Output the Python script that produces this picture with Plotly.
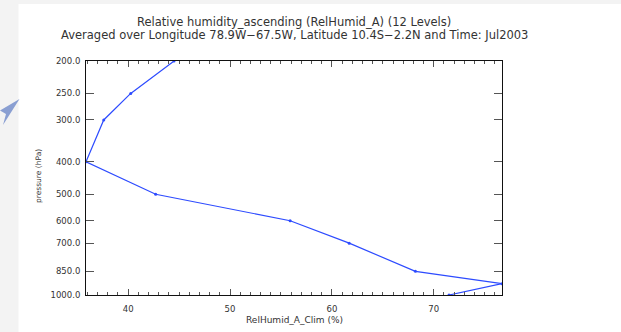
import math
import plotly.graph_objects as go

# Data
pressure_levels = [1000, 925, 850, 700, 600, 500, 400, 300, 250, 200, 150, 100]
relhumid_values = [71.5, 76.7, 68.2, 61.7, 55.9, 42.7, 35.86, 37.6, 40.25, 44.5, 50.0, 55.0]
y_tick_values = [200, 250, 300, 400, 500, 600, 700, 850, 1000]
y_tick_labels = ["200.0", "250.0", "300.0", "400.0", "500.0", "600.0", "700.0", "850.0", "1000.0"]
x_tick_values = [40, 50, 60, 70]
x_tick_labels = ["40", "50", "60", "70"]

title_line1 = "Relative humidity_ascending (RelHumid_A) (12 Levels)"
title_line2 = "Averaged over Longitude 78.9W\u221267.5W, Latitude 10.4S\u22122.2N and Time: Jul2003"

FONT = "DejaVu Sans"
LINE_COLOR = "rgb(45,75,255)"
AX_COLOR = "#111111"

fig = go.Figure()
fig.add_trace(go.Scatter(
    x=relhumid_values, y=pressure_levels, mode="lines+markers",
    line=dict(color=LINE_COLOR, width=1.2),
    marker=dict(color=LINE_COLOR, size=3),
    cliponaxis=True, showlegend=False, hoverinfo="x+y",
))

L, R, T, B = 86, 119, 61, 37
W, H = 621, 332
pw, ph = W - L - R, H - T - B

def px(x):
    return (x - L) / pw

def py(y):
    return (H - B - y) / ph

shapes = [
    dict(type="rect", xref="paper", yref="paper", x0=px(0), x1=px(18.5), y0=py(H), y1=py(0),
         fillcolor="#f3f3f3", line=dict(width=0), layer="below"),
    dict(type="rect", xref="paper", yref="paper", x0=px(0), x1=px(W), y0=py(4), y1=py(0),
         fillcolor="#f3f3f3", line=dict(width=0), layer="below"),
    dict(type="path", xref="paper", yref="paper",
         path="M {},{} L {},{} L {},{} L {},{} Z".format(
             px(19.5), py(99), px(0), py(110.5), px(6), py(114), px(3), py(125)),
         fillcolor="#8a9fd2", line=dict(width=0), layer="above"),
]

fig.update_layout(
    width=W, height=H,
    margin=dict(l=L, r=R, t=T, b=B, pad=0),
    paper_bgcolor="white", plot_bgcolor="white",
    font=dict(family=FONT, size=8.5, color="#333333"),
    shapes=shapes,
    annotations=[
        dict(text=title_line1, xref="paper", yref="paper", x=px(294), y=py(22), xanchor="center",
             yanchor="middle", showarrow=False, font=dict(family=FONT, size=11.5, color="#333333")),
        dict(text=title_line2, xref="paper", yref="paper", x=px(294), y=py(35.5), xanchor="center",
             yanchor="middle", showarrow=False, font=dict(family=FONT, size=11.5, color="#333333")),
        dict(text="pressure (hPa)", xref="paper", yref="paper", x=px(38), y=py(176), xanchor="center",
             yanchor="middle", textangle=-90, showarrow=False,
             font=dict(family=FONT, size=7.5, color="#333333")),
        dict(text="RelHumid_A_Clim (%)", xref="paper", yref="paper", x=px(294), y=py(320),
             xanchor="center", yanchor="middle", showarrow=False,
             font=dict(family=FONT, size=9, color="#333333")),
    ],
    xaxis=dict(
        range=[min(relhumid_values[:10]), max(relhumid_values)],
        tickvals=x_tick_values, ticktext=x_tick_labels,
        ticks="inside", ticklen=6, tickcolor="#555555", tickwidth=1,
        minor=dict(dtick=1, ticks="inside", ticklen=3, tickcolor="#555555", tickwidth=1, showgrid=False),
        showline=True, linecolor=AX_COLOR, linewidth=1, mirror="ticks",
        showgrid=False, zeroline=False,
        tickfont=dict(family=FONT, size=8.5, color="#333333"),
        ticklabelstandoff=6,
    ),
    yaxis=dict(
        type="log", range=[math.log10(1000), math.log10(200)],
        tickvals=y_tick_values, ticktext=y_tick_labels,
        ticks="inside", ticklen=8, tickcolor="#555555", tickwidth=1,
        showline=True, linecolor=AX_COLOR, linewidth=1, mirror="ticks",
        showgrid=False, zeroline=False,
        tickfont=dict(family=FONT, size=8.5, color="#333333"),
        ticklabelstandoff=3,
    ),
)

fig.write_html("out.html", config={"displayModeBar": False},
               post_script="document.body.style.margin='0';")
